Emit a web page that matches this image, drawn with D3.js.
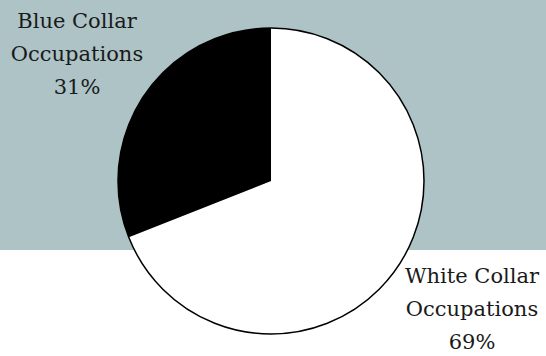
<!DOCTYPE html>
<html>
<head>
<meta charset="utf-8">
<script src="https://cdn.jsdelivr.net/npm/d3@7"></script>
<style>
  body { margin: 0; background: #fff; }
  svg { display: block; }
  .lbl { font-family: "DejaVu Serif", serif; }
</style>
</head>
<body>
<svg></svg>
<script>
// chart data
const categories = ["White Collar Occupations", "Blue Collar Occupations"];
const shares = [69, 31];
const percentLabels = ["69%", "31%"];
const labelLines = [["White Collar", "Occupations"], ["Blue Collar", "Occupations"]];
const sliceColors = ["#ffffff", "#000000"];

const width = 546;
const height = 356;
const cx = 271, cy = 181, radius = 153;

const svg = d3.select("svg")
  .attr("width", width)
  .attr("height", height);

// teal band behind the top of the pie
svg.append("rect")
  .attr("x", 0).attr("y", 0)
  .attr("width", width).attr("height", 250)
  .attr("fill", "#adc3c6");

const pieData = categories.map((c, i) => ({ name: c, value: shares[i], i: i }));

// white slice clockwise from the top, black slice the rest
const pie = d3.pie()
  .value(d => d.value)
  .sort(null);

const arc = d3.arc().innerRadius(0).outerRadius(radius);

const g = svg.append("g")
  .attr("transform", `translate(${cx},${cy})`);

g.selectAll("path.slice")
  .data(pie(pieData))
  .enter()
  .append("path")
  .attr("class", "slice")
  .attr("d", arc)
  .attr("fill", d => sliceColors[d.data.i]);

g.append("circle")
  .attr("r", radius)
  .attr("fill", "none")
  .attr("stroke", "#000")
  .attr("stroke-width", 1.5);

// labels
const labelPos = [{ x: 77, y: 28 }, { x: 472, y: 283 }];
const lineGap = 33;

pieData.forEach((d, i) => {
  const lines = labelLines[i].concat([percentLabels[i]]);
  const pos = labelPos[1 - i];
  const t = svg.append("text")
    .attr("class", "lbl")
    .attr("text-anchor", "middle")
    .attr("font-size", 21)
    .attr("fill", "#1a1a1a");
  lines.forEach((line, k) => {
    t.append("tspan")
      .attr("x", pos.x)
      .attr("y", pos.y + k * lineGap)
      .text(line);
  });
});
</script>
</body>
</html>
